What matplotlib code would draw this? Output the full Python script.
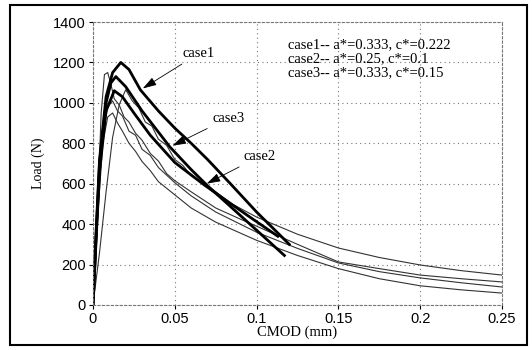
import matplotlib
matplotlib.use("Agg")
import matplotlib.pyplot as plt
from matplotlib.patches import Rectangle

# numerical predictions (thick lines)
case1_x = [0, 0.002, 0.004, 0.008, 0.012, 0.017, 0.022, 0.029, 0.040, 0.050, 0.060, 0.070, 0.084, 0.100, 0.120]
case1_y = [0, 380, 720, 1030, 1150, 1200, 1165, 1064, 960, 875, 800, 720, 600, 460, 300]
case3_x = [0, 0.002, 0.004, 0.008, 0.011, 0.014, 0.020, 0.030, 0.047, 0.060, 0.070, 0.085, 0.100, 0.117]
case3_y = [0, 360, 700, 1000, 1100, 1130, 1080, 960, 782, 670, 590, 480, 370, 245]
case2_x = [0, 0.002, 0.004, 0.008, 0.013, 0.018, 0.025, 0.035, 0.050, 0.068, 0.080, 0.095, 0.113]
case2_y = [0, 340, 660, 960, 1060, 1030, 950, 840, 705, 594, 525, 440, 340]

# experimental curves (thin lines)
exp1_x = [0, 0.003, 0.005, 0.007, 0.009, 0.011, 0.013, 0.016, 0.019, 0.022, 0.026, 0.030, 0.035, 0.040, 0.045, 0.050, 0.060, 0.075, 0.090, 0.100, 0.125, 0.150, 0.175, 0.200, 0.225, 0.250]
exp1_y = [0, 520, 950, 1140, 1150, 1090, 1020, 990, 930, 905, 850, 815, 750, 712, 650, 615, 560, 480, 425, 390, 300, 213, 180, 148, 130, 114]
exp2_x = [0, 0.004, 0.008, 0.012, 0.016, 0.020, 0.024, 0.028, 0.032, 0.036, 0.040, 0.045, 0.050, 0.055, 0.060, 0.070, 0.085, 0.100, 0.125, 0.150, 0.175, 0.200, 0.225, 0.250]
exp2_y = [0, 260, 560, 830, 990, 1065, 1010, 975, 905, 885, 820, 790, 720, 690, 640, 590, 500, 435, 350, 282, 235, 198, 170, 148]
exp3_x = [0, 0.003, 0.006, 0.009, 0.012, 0.015, 0.018, 0.022, 0.026, 0.030, 0.035, 0.040, 0.050, 0.060, 0.075, 0.100, 0.125, 0.150, 0.175, 0.200, 0.225, 0.250]
exp3_y = [0, 480, 850, 980, 1010, 960, 935, 860, 840, 770, 740, 680, 605, 540, 460, 360, 280, 208, 165, 134, 110, 89]
exp4_x = [0, 0.003, 0.006, 0.009, 0.012, 0.015, 0.018, 0.022, 0.026, 0.030, 0.035, 0.040, 0.050, 0.060, 0.075, 0.100, 0.125, 0.150, 0.175, 0.200, 0.225, 0.250]
exp4_y = [0, 450, 800, 930, 950, 900, 860, 800, 760, 710, 665, 610, 545, 480, 410, 320, 245, 180, 130, 95, 75, 59]

legend_lines = ["case1-- a*=0.333, c*=0.222",
                "case2-- a*=0.25, c*=0.1",
                "case3-- a*=0.333, c*=0.15"]

serif = ["Liberation Serif", "DejaVu Serif"]
sans = ["Liberation Sans", "DejaVu Sans"]

fig = plt.figure(figsize=(5.32, 3.5), dpi=100)
ax = fig.add_axes([0.1748, 0.1286, 0.7688, 0.8085])

for xs, ys in [(exp1_x, exp1_y), (exp2_x, exp2_y), (exp3_x, exp3_y), (exp4_x, exp4_y)]:
    ax.plot(xs, ys, color="#333333", lw=0.8)
for xs, ys in [(case1_x, case1_y), (case3_x, case3_y), (case2_x, case2_y)]:
    ax.plot(xs, ys, color="black", lw=2.0)

ax.set_xlim(0, 0.25)
ax.set_ylim(0, 1400)
ax.set_xticks([0, 0.05, 0.1, 0.15, 0.2, 0.25])
ax.set_xticklabels(["0", "0.05", "0.1", "0.15", "0.2", "0.25"])
ax.set_yticks(range(0, 1401, 200))
ax.grid(True, linestyle=(0, (1, 3)), color="#777777", lw=0.8)
for s in ax.spines.values():
    s.set_linestyle((0, (2, 2)))
    s.set_color("#777777")
    s.set_linewidth(0.8)
ax.tick_params(length=3, width=0.8, pad=2, labelsize=10.5)
for lab in ax.get_xticklabels() + ax.get_yticklabels():
    lab.set_family(sans)

ax.set_xlabel("CMOD (mm)", family=serif, fontsize=10.5, labelpad=0)
ax.set_ylabel("Load (N)", family=serif, fontsize=10, labelpad=6)

arrow = dict(arrowstyle="-|>,head_length=0.8,head_width=0.25", color="black", lw=0.6)
ax.annotate("case1", xy=(case1_x[7], case1_y[7]), xytext=(0.055, 1245),
            family=serif, fontsize=10.5, arrowprops=arrow, va="center")
ax.annotate("case3", xy=(case3_x[8], case3_y[8]), xytext=(0.073, 925),
            family=serif, fontsize=10.5, arrowprops=arrow, va="center")
ax.annotate("case2", xy=(case2_x[9], case2_y[9]), xytext=(0.092, 735),
            family=serif, fontsize=10.5, arrowprops=arrow, va="center")

for i, t in enumerate(legend_lines):
    ax.text(0.119, 1290 - i * 70, t, family=serif, fontsize=10.5, va="center")

fig.patches.append(Rectangle((10 / 532, 5 / 350), 517 / 532, 340 / 350, transform=fig.transFigure,
                             fill=False, edgecolor="black", lw=1.5))

fig.savefig("out.png", dpi=100)
